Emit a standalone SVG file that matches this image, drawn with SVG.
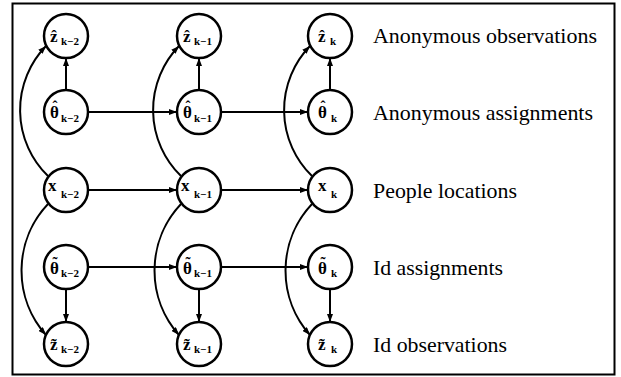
<svg xmlns="http://www.w3.org/2000/svg" width="621" height="377" viewBox="0 0 621 377">
<style>
.n{fill:#fff;stroke:#000;stroke-width:2.5}
.m{font-family:"Liberation Serif","DejaVu Serif",serif;font-size:17px;font-weight:bold;fill:#000}
.a{font-size:15px}
.s{font-family:"Liberation Serif","DejaVu Serif",serif;font-size:11px;font-weight:bold;fill:#000}
.lab{font-family:"Liberation Serif","Times New Roman",serif;font-size:21px;fill:#000}
.c{fill:none;stroke:#000;stroke-width:2}
</style>
<defs>
<marker id="ah" markerUnits="userSpaceOnUse" markerWidth="8" markerHeight="6" refX="8" refY="3" orient="auto">
<path d="M0,0 L8,3 L0,6 z" fill="#000"/>
</marker>
</defs>
<rect x="12.5" y="3.5" width="602" height="371" fill="#fff" stroke="#000" stroke-width="2"/>
<g id="connectors">
<line class="c" x1="66" y1="90" x2="66" y2="58" marker-end="url(#ah)"/>
<line class="c" x1="199" y1="90" x2="199" y2="58" marker-end="url(#ah)"/>
<line class="c" x1="330" y1="90" x2="330" y2="58" marker-end="url(#ah)"/>
<line class="c" x1="66" y1="289" x2="66" y2="322" marker-end="url(#ah)"/>
<line class="c" x1="199" y1="289" x2="199" y2="322" marker-end="url(#ah)"/>
<line class="c" x1="330" y1="289" x2="330" y2="322" marker-end="url(#ah)"/>
<line class="c" x1="88" y1="112" x2="177" y2="112" marker-end="url(#ah)"/>
<line class="c" x1="221" y1="112" x2="308" y2="112" marker-end="url(#ah)"/>
<line class="c" x1="88" y1="190" x2="177" y2="190" marker-end="url(#ah)"/>
<line class="c" x1="221" y1="190" x2="308" y2="190" marker-end="url(#ah)"/>
<line class="c" x1="88" y1="267" x2="177" y2="267" marker-end="url(#ah)"/>
<line class="c" x1="221" y1="267" x2="308" y2="267" marker-end="url(#ah)"/>
<path class="c" d="M48,176 A92,92 0 0 1 46,46" marker-end="url(#ah)"/>
<path class="c" d="M181,176 A92,92 0 0 1 179,46" marker-end="url(#ah)"/>
<path class="c" d="M312,176 A92,92 0 0 1 310,46" marker-end="url(#ah)"/>
<path class="c" d="M48,204 A97,97 0 0 0 46,335" marker-end="url(#ah)"/>
<path class="c" d="M181,204 A97,97 0 0 0 179,335" marker-end="url(#ah)"/>
<path class="c" d="M312,204 A97,97 0 0 0 310,335" marker-end="url(#ah)"/>
</g>
<g id="zhat_km2"><circle class="n" cx="66" cy="36" r="22"/><text class="m" x="50" y="42">ẑ</text><text class="s" x="61" y="45">k−2</text></g>
<g id="zhat_km1"><circle class="n" cx="199" cy="36" r="22"/><text class="m" x="183" y="42">ẑ</text><text class="s" x="194" y="45">k−1</text></g>
<g id="zhat_k"><circle class="n" cx="330" cy="36" r="22"/><text class="m" x="318" y="42">ẑ</text><text class="s" x="330" y="45">k</text></g>
<g id="thhat_km2"><circle class="n" cx="66" cy="112" r="22"/><text class="m" x="50" y="118">θ<tspan class="a" dx="-6.5" dy="-7">ˆ</tspan></text><text class="s" x="61" y="122">k−2</text></g>
<g id="thhat_km1"><circle class="n" cx="199" cy="112" r="22"/><text class="m" x="183" y="118">θ<tspan class="a" dx="-6.5" dy="-7">ˆ</tspan></text><text class="s" x="194" y="122">k−1</text></g>
<g id="thhat_k"><circle class="n" cx="330" cy="112" r="22"/><text class="m" x="318" y="118">θ<tspan class="a" dx="-6.5" dy="-7">ˆ</tspan></text><text class="s" x="331" y="122">k</text></g>
<g id="x_km2"><circle class="n" cx="66" cy="190" r="22"/><text class="m" x="48" y="191" font-size="13">x</text><text class="s" x="61" y="198">k−2</text></g>
<g id="x_km1"><circle class="n" cx="199" cy="190" r="22"/><text class="m" x="181" y="191" font-size="13">x</text><text class="s" x="194" y="198">k−1</text></g>
<g id="x_k"><circle class="n" cx="330" cy="190" r="22"/><text class="m" x="318" y="191" font-size="13">x</text><text class="s" x="331" y="198">k</text></g>
<g id="thtil_km2"><circle class="n" cx="66" cy="267" r="22"/><text class="m" x="50" y="274">θ<tspan class="a" dx="-6.5" dy="-7">˜</tspan></text><text class="s" x="61" y="277">k−2</text></g>
<g id="thtil_km1"><circle class="n" cx="199" cy="267" r="22"/><text class="m" x="183" y="274">θ<tspan class="a" dx="-6.5" dy="-7">˜</tspan></text><text class="s" x="194" y="277">k−1</text></g>
<g id="thtil_k"><circle class="n" cx="330" cy="267" r="22"/><text class="m" x="318" y="274">θ<tspan class="a" dx="-6.5" dy="-7">˜</tspan></text><text class="s" x="331" y="277">k</text></g>
<g id="ztil_km2"><circle class="n" cx="66" cy="344" r="22"/><text class="m" x="50" y="350">z̃</text><text class="s" x="61" y="353">k−2</text></g>
<g id="ztil_km1"><circle class="n" cx="199" cy="344" r="22"/><text class="m" x="183" y="350">z̃</text><text class="s" x="194" y="353">k−1</text></g>
<g id="ztil_k"><circle class="n" cx="330" cy="344" r="22"/><text class="m" x="318" y="350">z̃</text><text class="s" x="331" y="353">k</text></g>
<g id="labels">
<text class="lab" x="373" y="43" textLength="224" lengthAdjust="spacingAndGlyphs">Anonymous observations</text>
<text class="lab" x="373" y="120" textLength="220" lengthAdjust="spacingAndGlyphs">Anonymous assignments</text>
<text class="lab" x="373" y="198" textLength="144" lengthAdjust="spacingAndGlyphs">People locations</text>
<text class="lab" x="373" y="275" textLength="130" lengthAdjust="spacingAndGlyphs">Id assignments</text>
<text class="lab" x="373" y="352" textLength="134" lengthAdjust="spacingAndGlyphs">Id observations</text>
</g>
</svg>
